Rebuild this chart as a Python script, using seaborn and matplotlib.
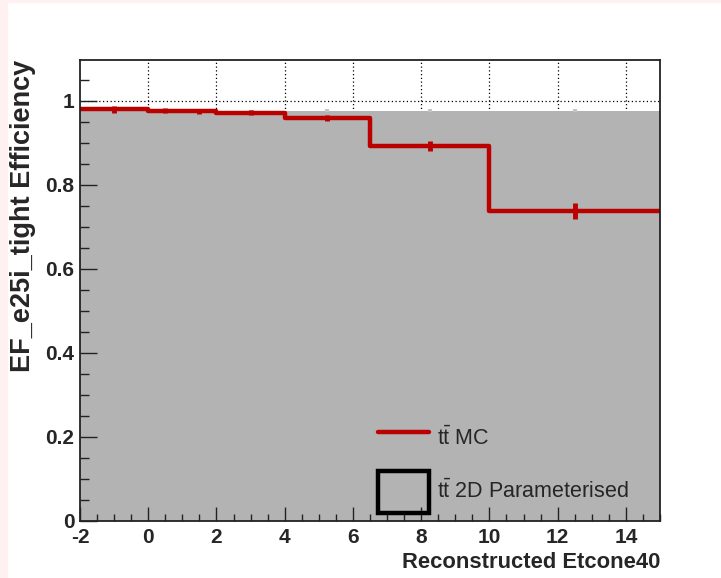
import numpy as np
import pandas as pd
import matplotlib
matplotlib.use("Agg")
import matplotlib.pyplot as plt
import seaborn as sns
from matplotlib.lines import Line2D
from matplotlib.patches import Patch, Rectangle
from matplotlib.ticker import MultipleLocator, FixedLocator

# ---- data ----
bin_edges = [-2, 0, 1, 2, 4, 6.5, 10, 15]
mc_eff = [0.980, 0.977, 0.975, 0.972, 0.960, 0.893, 0.739]
mc_err = [0.009, 0.006, 0.007, 0.006, 0.007, 0.012, 0.019]
param_eff = [0.977, 0.977, 0.977, 0.977, 0.977, 0.977, 0.977]
param_err = [0.002, 0.002, 0.002, 0.002, 0.003, 0.003, 0.004]
x_ticks = [-2, 0, 2, 4, 6, 8, 10, 12, 14]
y_ticks = [0, 0.2, 0.4, 0.6, 0.8, 1.0]
y_tick_labels = ["0", "0.2", "0.4", "0.6", "0.8", "1"]
legend_labels = [r"$\mathrm{t\bar{t}}$ MC", r"$\mathrm{t\bar{t}}$ 2D Parameterised"]

edges = np.array(bin_edges)
centers = 0.5 * (edges[:-1] + edges[1:])
df = pd.DataFrame({"center": centers, "mc": mc_eff, "mc_err": mc_err,
                   "par": param_eff, "par_err": param_err})

sns.set_theme(style="ticks")
plt.rcParams["font.family"] = ["Liberation Sans", "DejaVu Sans"]
plt.rcParams["mathtext.fontset"] = "custom"
plt.rcParams["mathtext.rm"] = "Liberation Sans"
plt.rcParams["axes.unicode_minus"] = False

RED = "#bb0000"
GRAY = "#b3b3b3"

fig = plt.figure(figsize=(7.21, 5.78), dpi=100)
fig.patches.append(Rectangle((0, 0), 7 / 721, 1, transform=fig.transFigure,
                             color="#fff1f1", zorder=-1))
fig.patches.append(Rectangle((0, 1 - 2 / 578), 1, 2 / 578, transform=fig.transFigure,
                             color="#fff1f1", zorder=-1))
ax = fig.add_axes([80 / 721, 1 - 521 / 578, 580 / 721, 461 / 578])
ax.set_axisbelow(False)

# grid (under everything)
for xv in x_ticks[1:]:
    ax.axvline(xv, color="black", lw=0.9, ls=(0, (1, 2)), zorder=0)
for yv in y_ticks[1:]:
    ax.axhline(yv, color="black", lw=0.9, ls=(0, (1, 2)), zorder=0)

# parameterised (gray filled)
sns.histplot(data=df, x="center", weights="par", bins=bin_edges, element="step",
             fill=True, color=GRAY, alpha=1.0, linewidth=0, ax=ax, zorder=1)
ax.errorbar(df["center"], df["par"], yerr=df["par_err"], fmt="none",
            ecolor="#c4c4c4", elinewidth=3, zorder=1.5)

# MC (red step)
sns.histplot(data=df, x="center", weights="mc", bins=bin_edges, element="step",
             fill=False, color=RED, linewidth=3.2, ax=ax, zorder=3)
ax.errorbar(df["center"], df["mc"], yerr=df["mc_err"], fmt="none",
            ecolor=RED, elinewidth=3.5, zorder=3)

ax.set_xlim(-2, 15)
ax.set_ylim(0, 1.0976)

ax.xaxis.set_major_locator(FixedLocator(x_ticks))
ax.xaxis.set_minor_locator(MultipleLocator(0.5))
ax.set_yticks(y_ticks)
ax.set_yticklabels(y_tick_labels)
ax.yaxis.set_minor_locator(MultipleLocator(0.05))

ax.tick_params(axis="both", which="both", direction="in", color="#222222",
               width=1.0, top=False, right=False)
ax.tick_params(axis="x", which="major", length=10, pad=5, labelsize=15)
ax.tick_params(axis="x", which="minor", length=5)
ax.tick_params(axis="y", which="major", length=12.5, pad=4, labelsize=15)
ax.tick_params(axis="y", which="minor", length=6.5)
for lab in ax.get_xticklabels() + ax.get_yticklabels():
    lab.set_fontweight("bold")

for s in ax.spines.values():
    s.set_visible(True)
    s.set_color("#222222")
    s.set_linewidth(1.3)
    s.set_zorder(5)

ax.set_xlabel("Reconstructed Etcone40", fontsize=15.8, fontweight="bold",
              loc="right", labelpad=4)
ax.set_ylabel("EF_e25i_tight Efficiency", fontsize=19.5, fontweight="bold",
              loc="top", labelpad=7)

handles = [Line2D([0], [0], color=RED, lw=3.2),
           Patch(facecolor="none", edgecolor="black", linewidth=3.2)]
ax.legend(handles, legend_labels, loc="lower left",
          bbox_to_anchor=(0.513, 0.018), frameon=False, fontsize=15.5,
          handlelength=2.4, handleheight=2.63, labelspacing=0.5,
          handletextpad=0.35, borderpad=0.0, borderaxespad=0.0)

fig.savefig("out.png", dpi=100)
